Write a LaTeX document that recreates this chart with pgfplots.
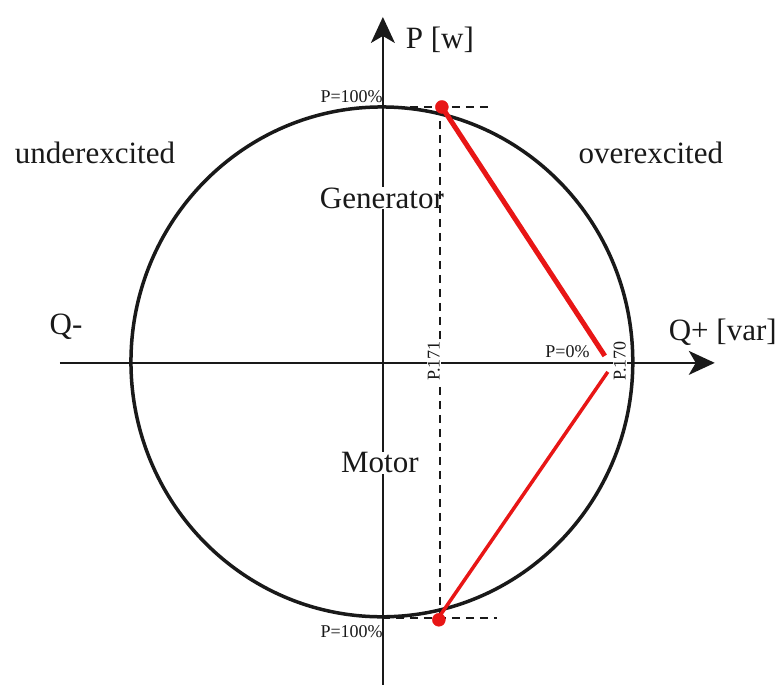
\documentclass[border=0pt]{standalone}
\usepackage{fontspec}
\setmainfont{Liberation Serif}
\usepackage{pgfplots}
\pgfplotsset{compat=1.18}
\usetikzlibrary{arrows.meta}
\definecolor{pqred}{RGB}{232,22,22}
\definecolor{ink}{RGB}{25,25,25}

\begin{document}
\begin{tikzpicture}
\begin{axis}[
  width=780pt, height=685pt, scale only axis,
  xmin=-382, xmax=398, ymin=-323, ymax=362,
  hide axis, clip=false,
]
% axes
\addplot[ink, line width=2pt, -{Stealth[length=26pt,width=24pt,inset=7pt]}]
  coordinates {(-322,-1) (333,-1)};
\addplot[ink, line width=2pt, -{Stealth[length=26pt,width=24pt,inset=7pt]}]
  coordinates {(1,-323) (1,345)};
% capability circle
\draw[ink, line width=3.5pt] (axis cs:0,0) ellipse [x radius=251, y radius=255];
% region labels with white background
\node[fill=white, inner sep=1pt, font=\fontsize{31}{34}\selectfont, text=ink]
  at (axis cs:0,164) {Generator};
\node[fill=white, inner sep=1pt, font=\fontsize{31}{34}\selectfont, text=ink]
  at (axis cs:-2,-101) {Motor};
% dashed guides
\addplot[ink, line width=2pt, dash pattern=on 8pt off 6pt]
  coordinates {(58,255) (58,-256)};
\addplot[ink, line width=1.5pt, dash pattern=on 8pt off 6pt]
  coordinates {(0,255) (111,255)};
\addplot[ink, line width=1.5pt, dash pattern=on 8pt off 6pt]
  coordinates {(0,-256) (115,-256)};
% red operating lines
\addplot[pqred, line width=5pt] coordinates {(60,255) (223,6)};
\addplot[pqred, line width=3.5pt] coordinates {(226,-10) (58,-254)};
\addplot[pqred, only marks, mark=*, mark size=6.5pt] coordinates {(60,255) (57,-258)};
% small labels
\node[fill=white, inner sep=1pt, rotate=90, font=\fontsize{18}{20}\selectfont, text=ink]
  at (axis cs:52,1) {P.171};
\node[fill=white, inner sep=1pt, rotate=90, font=\fontsize{18}{20}\selectfont, text=ink]
  at (axis cs:238,1) {P.170};
\node[anchor=east, inner sep=0pt, font=\fontsize{18}{20}\selectfont, text=ink]
  at (axis cs:1,265) {P=100\%};
\node[anchor=east, inner sep=0pt, font=\fontsize{18}{20}\selectfont, text=ink]
  at (axis cs:1,-270) {P=100\%};
\node[anchor=east, inner sep=0pt, font=\fontsize{18}{20}\selectfont, text=ink]
  at (axis cs:208,10) {P=0\%};
% big labels
\node[font=\fontsize{31}{34}\selectfont, text=ink] at (axis cs:-287,209) {underexcited};
\node[font=\fontsize{31}{34}\selectfont, text=ink] at (axis cs:269,209) {overexcited};
\node[font=\fontsize{31}{34}\selectfont, text=ink] at (axis cs:-316,35) {Q-};
\node[font=\fontsize{31}{34}\selectfont, text=ink] at (axis cs:341,30) {Q+ [var]};
\node[font=\fontsize{31}{34}\selectfont, text=ink] at (axis cs:58,322) {P [w]};
\path (rel axis cs:0,0) rectangle (rel axis cs:1,1);
\end{axis}
\end{tikzpicture}
\end{document}
